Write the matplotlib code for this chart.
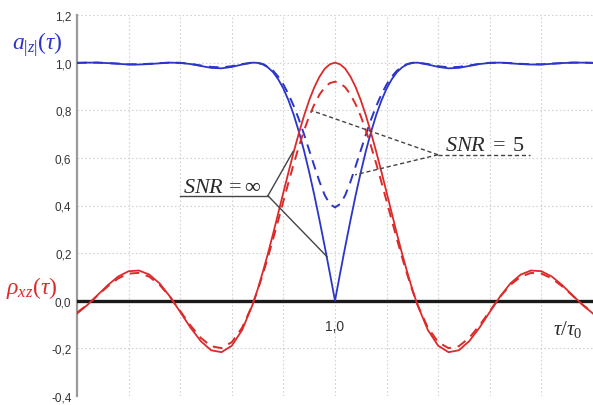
import numpy as np
import matplotlib
matplotlib.use("Agg")
import matplotlib.pyplot as plt

plt.rcParams['font.family'] = ['Liberation Sans', 'DejaVu Sans']
plt.rcParams['mathtext.fontset'] = 'custom'
plt.rcParams['mathtext.rm'] = 'Liberation Serif'
plt.rcParams['mathtext.it'] = 'Liberation Serif:italic'
plt.rcParams['mathtext.bf'] = 'Liberation Serif:bold'

# normalised delay tau/tau0 (finer steps around the main lobe)
tau = [0.00, 0.04, 0.08, 0.12, 0.16, 0.20, 0.24, 0.28, 0.32, 0.36, 0.40,
       0.44, 0.48, 0.52, 0.56, 0.60, 0.64,
       0.68, 0.70, 0.72, 0.74, 0.76, 0.78, 0.80, 0.82, 0.84, 0.86, 0.88,
       0.90, 0.92, 0.94, 0.96, 0.98,
       1.00,
       1.02, 1.04, 1.06, 1.08, 1.10, 1.12, 1.14, 1.16, 1.18, 1.20, 1.22,
       1.24, 1.26, 1.28, 1.30, 1.32,
       1.36, 1.40, 1.44, 1.48, 1.52, 1.56, 1.60, 1.64, 1.68, 1.72, 1.76,
       1.80, 1.84, 1.88, 1.92, 1.96, 2.00]

# correlation coefficient rho_xz, SNR = inf
rho_inf = [-0.054, -0.018, 0.024, 0.066, 0.102, 0.124, 0.127, 0.110, 0.073,
           0.018, -0.047, -0.113, -0.170, -0.208, -0.216, -0.189, -0.123,
           -0.018, 0.047, 0.120, 0.198, 0.281, 0.368, 0.455, 0.541, 0.625,
           0.704, 0.777, 0.842, 0.897, 0.941, 0.974, 0.993,
           1.000,
           0.993, 0.974, 0.941, 0.897, 0.842, 0.777, 0.704, 0.625, 0.541,
           0.455, 0.368, 0.281, 0.198, 0.120, 0.047, -0.018,
           -0.123, -0.189, -0.216, -0.208, -0.170, -0.113, -0.047, 0.018,
           0.073, 0.110, 0.127, 0.124, 0.102, 0.066, 0.024, -0.018, -0.054]

# correlation coefficient rho_xz, SNR = 5
rho_snr5 = [-0.050, -0.017, 0.022, 0.061, 0.094, 0.114, 0.117, 0.101, 0.067,
            0.017, -0.043, -0.104, -0.156, -0.191, -0.199, -0.174, -0.113,
            -0.017, 0.043, 0.110, 0.182, 0.259, 0.338, 0.418, 0.498, 0.575,
            0.648, 0.715, 0.775, 0.825, 0.866, 0.896, 0.914,
            0.920,
            0.914, 0.896, 0.866, 0.825, 0.775, 0.715, 0.648, 0.575, 0.498,
            0.418, 0.338, 0.259, 0.182, 0.110, 0.043, -0.017,
            -0.113, -0.174, -0.199, -0.191, -0.156, -0.104, -0.043, 0.017,
            0.067, 0.101, 0.117, 0.114, 0.094, 0.061, 0.022, -0.017, -0.050]

# amplitude a_|z|, SNR = inf
amp_inf = [0.999, 1.000, 1.000, 0.998, 0.995, 0.992, 0.992, 0.994, 0.997,
           1.000, 0.999, 0.994, 0.986, 0.978, 0.976, 0.982, 0.992,
           1.000, 0.999, 0.993, 0.980, 0.960, 0.930, 0.891, 0.841, 0.781,
           0.710, 0.630, 0.540, 0.443, 0.338, 0.229, 0.116,
           0.000,
           0.116, 0.229, 0.338, 0.443, 0.540, 0.630, 0.710, 0.781, 0.841,
           0.891, 0.930, 0.960, 0.980, 0.993, 0.999, 1.000,
           0.992, 0.982, 0.976, 0.978, 0.986, 0.994, 0.999, 1.000,
           0.997, 0.994, 0.992, 0.992, 0.995, 0.998, 1.000, 1.000, 0.999]

# amplitude a_|z|, SNR = 5
amp_snr5 = [0.999, 1.000, 1.000, 0.998, 0.996, 0.993, 0.993, 0.995, 0.998,
            1.000, 0.999, 0.995, 0.988, 0.982, 0.980, 0.985, 0.994,
            1.000, 0.999, 0.994, 0.983, 0.966, 0.941, 0.908, 0.867, 0.818,
            0.762, 0.699, 0.632, 0.565, 0.500, 0.444, 0.406,
            0.392,
            0.406, 0.444, 0.500, 0.565, 0.632, 0.699, 0.762, 0.818, 0.867,
            0.908, 0.941, 0.966, 0.983, 0.994, 0.999, 1.000,
            0.994, 0.985, 0.980, 0.982, 0.988, 0.995, 0.999, 1.000,
            0.998, 0.995, 0.993, 0.993, 0.996, 0.998, 1.000, 1.000, 0.999]

y_ticks = [-0.4, -0.2, 0.0, 0.2, 0.4, 0.6, 0.8, 1.0, 1.2]
x_grid = [0.2, 0.4, 0.6, 0.8, 1.0, 1.2, 1.4, 1.6, 1.8]

BLUE = '#2b35c8'
RED = '#dc2a2a'

fig = plt.figure(figsize=(5.93, 4.06), dpi=100)
ax = fig.add_axes([77 / 593, 9 / 406, 516 / 593, 381 / 406])
ax.set_xlim(0, 2)
ax.set_ylim(-0.4, 1.2)

# dotted grid
for g in x_grid:
    ax.axvline(g, color='#d2d2d2', lw=0.8, ls=(0, (1.5, 2)), zorder=0)
for g in y_ticks:
    ax.axhline(g, color='#d2d2d2', lw=0.8, ls=(0, (1.5, 2)), zorder=0)

for s in ['top', 'right', 'bottom']:
    ax.spines[s].set_visible(False)
ax.spines['left'].set_color('#9a9a9a')
ax.spines['left'].set_linewidth(1.6)

ax.set_xticks([])
ax.set_yticks(y_ticks)
ax.set_yticklabels([('%.1f' % v).replace('.', ',') for v in y_ticks])
ax.tick_params(axis='y', length=0, pad=4, labelsize=8.5, labelcolor='#333333')

# zero line
ax.axhline(0, color='#1a1a1a', lw=2.4, zorder=3)

ax.plot(tau, amp_inf, color=BLUE, lw=1.3, zorder=4)
ax.plot(tau, amp_snr5, color=BLUE, lw=1.4, ls=(0, (5, 3.5)), zorder=4)
ax.plot(tau, rho_inf, color=RED, lw=1.3, zorder=4)
ax.plot(tau, rho_snr5, color=RED, lw=1.4, ls=(0, (5, 3.5)), zorder=4)

# SNR = inf callout
ax.plot([0.399, 0.740], [0.441, 0.441], color='#444444', lw=1.0, zorder=5)
ax.plot([0.740, 0.837], [0.441, 0.626], color='#444444', lw=1.0, zorder=5)
ax.plot([0.740, 0.969], [0.441, 0.185], color='#444444', lw=1.0, zorder=5)
ax.text(0.41, 0.455, r'$SNR\,=\infty$', fontsize=16, color='#2a2a2a',
        ha='left', va='baseline', zorder=6)

# SNR = 5 callout
ax.plot([1.399, 1.756], [0.613, 0.613], color='#444444', lw=1.0,
        ls=(0, (3, 2)), zorder=5)
ax.plot([1.399, 0.911], [0.613, 0.798], color='#444444', lw=1.0,
        ls=(0, (3, 2)), zorder=5)
ax.plot([1.399, 1.078], [0.613, 0.529], color='#444444', lw=1.0,
        ls=(0, (3, 2)), zorder=5)
ax.text(1.426, 0.635, r'$SNR\;=\;5$', fontsize=16, color='#2a2a2a',
        ha='left', va='baseline', zorder=6)

ax.text(1.0, -0.105, '1,0', fontsize=10, color='#333333',
        ha='center', va='center')
ax.text(1.90, -0.115, r'$\tau/\tau_{\mathit{0}}$', fontsize=15,
        color='#2a2a2a', ha='center', va='center')

fig.text(12 / 593, 1 - 45 / 406, r'$a_{|z|}(\tau)$', fontsize=17,
         color=BLUE, ha='left', va='center')
fig.text(6 / 593, 1 - 288 / 406, r'$\rho_{xz}(\tau)$', fontsize=17,
         color=RED, ha='left', va='center')

fig.savefig('out.png', dpi=100)
